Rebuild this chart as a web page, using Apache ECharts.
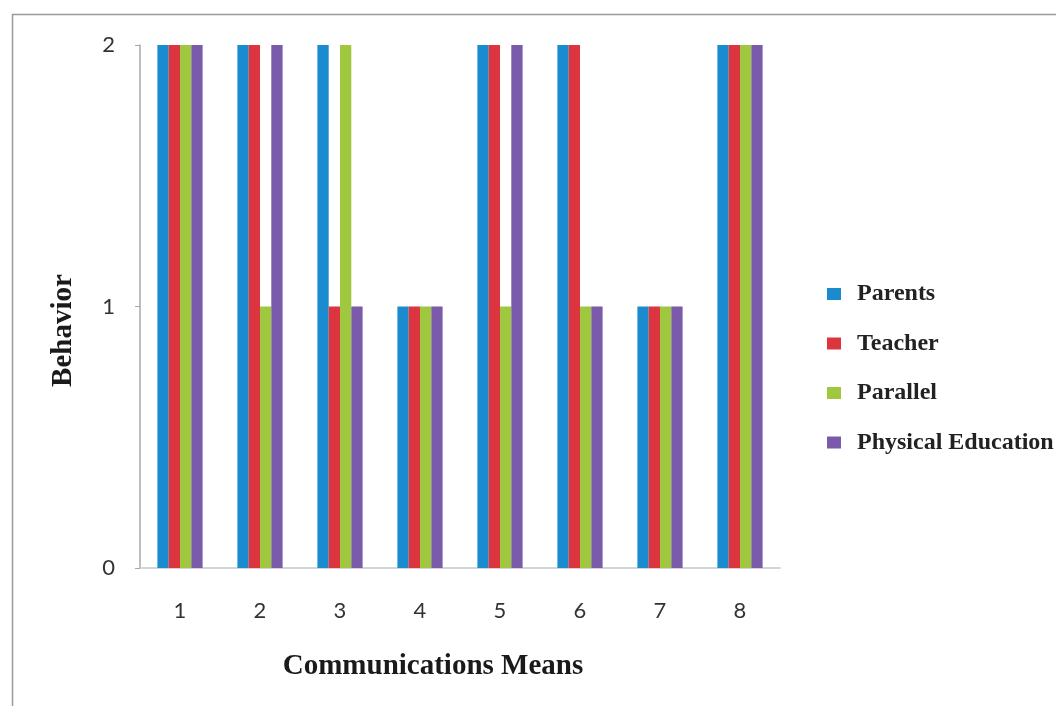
<!DOCTYPE html>
<html>
<head>
<meta charset="utf-8">
<script src="https://cdn.jsdelivr.net/npm/echarts@6/dist/echarts.min.js"></script>
<style>
  html, body { margin: 0; padding: 0; background: #fff; }
  #chart { width: 1056px; height: 706px; }
</style>
</head>
<body>
<div id="chart"></div>
<script>
// Communication means on the x axis, behaviour score per group
const categories = ['1', '2', '3', '4', '5', '6', '7', '8'];
const parents = [2, 2, 2, 1, 2, 2, 1, 2];
const teacher = [2, 2, 1, 1, 2, 2, 1, 2];
const parallel = [2, 1, 2, 1, 1, 1, 1, 2];
const physicalEducation = [2, 2, 1, 1, 2, 1, 1, 2];
const yTicks = [0, 1, 2];

const seriesNames = ['Parents', 'Teacher', 'Parallel', 'Physical Education'];
const seriesData = [parents, teacher, parallel, physicalEducation];
const colors = ['#1b8bcf', '#dc3540', '#9fc83e', '#7a5aaa'];

const serif = '"Liberation Serif", "DejaVu Serif", serif';
const sans = 'Lato, "Open Sans", sans-serif';

const chart = echarts.init(document.getElementById('chart'));

chart.setOption({
  animation: false,
  backgroundColor: '#fff',
  graphic: [{
    type: 'rect',
    shape: { x: 12.5, y: 14.5, width: 1100, height: 800 },
    style: { fill: 'none', stroke: '#9a9a9a', lineWidth: 1.5 },
    silent: true
  }],
  grid: { left: 140, right: 276, top: 45, bottom: 138 },
  legend: {
    orient: 'vertical',
    left: 822,
    top: 277,
    itemWidth: 14,
    itemHeight: 12,
    itemGap: 25.5,
    icon: 'rect',
    data: seriesNames,
    textStyle: {
      fontFamily: serif,
      fontWeight: 'bold',
      fontSize: 24,
      color: '#222',
      padding: [0, 0, 0, 11]
    }
  },
  xAxis: {
    type: 'category',
    data: categories,
    name: 'Communications Means',
    nameLocation: 'middle',
    nameGap: 84,
    nameTextStyle: {
      fontFamily: serif,
      fontWeight: 'bold',
      fontSize: 29,
      color: '#1a1a1a',
      padding: [0, 54, 0, 0]
    },
    axisLine: { lineStyle: { color: '#c8c8c8', width: 1.5 } },
    axisTick: { show: false },
    axisLabel: {
      fontFamily: sans,
      fontSize: 22,
      color: '#333',
      margin: 32
    }
  },
  yAxis: {
    type: 'value',
    min: yTicks[0],
    max: yTicks[yTicks.length - 1],
    interval: 1,
    name: 'Behavior',
    nameLocation: 'middle',
    nameGap: 62,
    nameRotate: 90,
    nameTextStyle: {
      fontFamily: serif,
      fontWeight: 'bold',
      fontSize: 29,
      color: '#1a1a1a',
      padding: [0, 48, 0, 0]
    },
    axisLine: { show: true, lineStyle: { color: '#a8a8a8', width: 1.5 } },
    axisTick: { show: true, length: 5, lineStyle: { color: '#a8a8a8' } },
    splitLine: { show: false },
    axisLabel: {
      fontFamily: sans,
      fontSize: 22,
      color: '#333',
      margin: 25
    }
  },
  series: seriesNames.map((name, i) => ({
    name: name,
    type: 'bar',
    data: seriesData[i],
    barWidth: 11.3,
    barGap: '0%',
    itemStyle: { color: colors[i] }
  }))
});
</script>
</body>
</html>
